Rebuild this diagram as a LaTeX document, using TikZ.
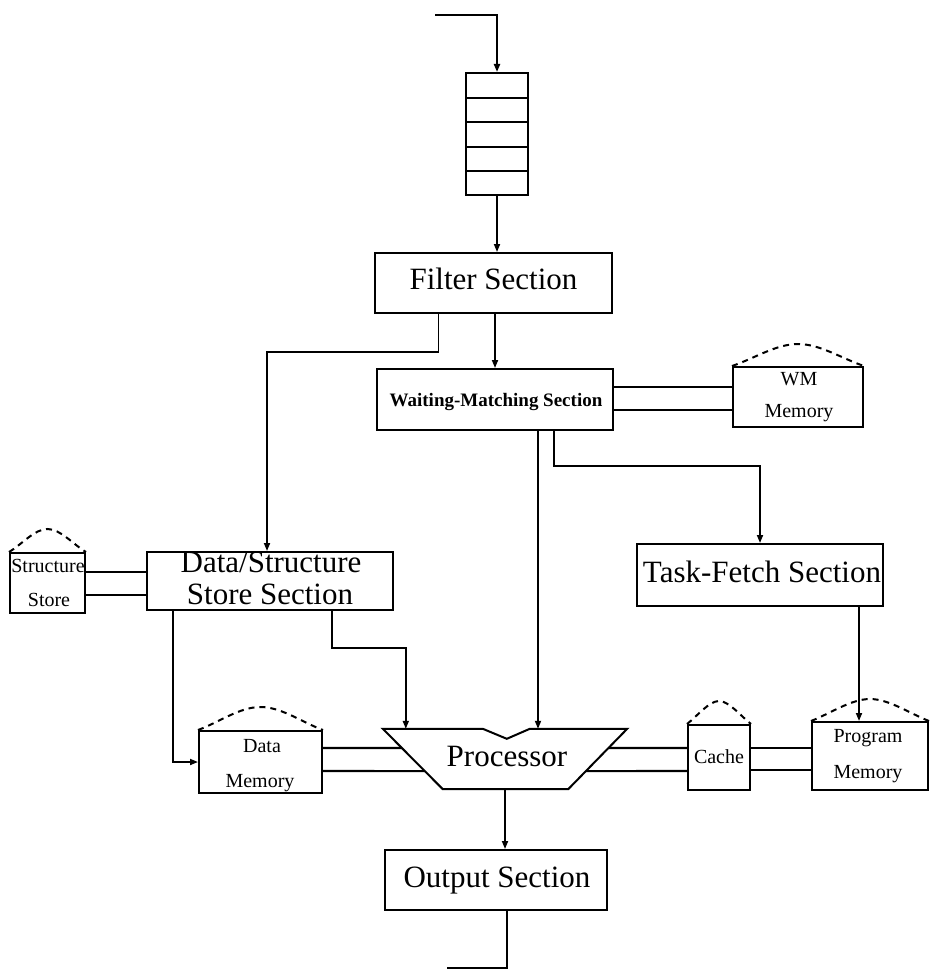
\documentclass[tikz,border=0pt]{standalone}
\usepackage{fontspec}
\setmainfont{Liberation Serif}
\usetikzlibrary{arrows.meta,calc}

% dashed roof over a memory box: #1 node, #2 control reach, #3 rise of the peak
\newcommand{\memroof}[3]{%
  \draw[roof] (#1.north west) .. controls +(#2,-#3/3) and +(-#2,0) .. ($(#1.north)+(0,-#3)$)
    .. controls +(#2,0) and +(-#2,-#3/3) .. (#1.north east);}

\begin{document}
\begin{tikzpicture}[x=1pt,y=-1pt,
  box/.style={draw,line width=2pt,inner sep=0pt},
  wire/.style={line width=1.7pt},
  link/.style={line width=2.1pt},
  arr/.style={wire,-{Triangle[length=8pt,width=6pt]}},
  roof/.style={line width=2pt,dash pattern=on 6pt off 5pt},
  bigtext/.style={font=\fontsize{31}{33}\selectfont,inner sep=0pt,anchor=base},
  smalltext/.style={font=\fontsize{20}{22}\selectfont,inner sep=0pt,anchor=base},
  boldtext/.style={font=\bfseries\fontsize{19}{21}\selectfont,inner sep=0pt,anchor=base}]

\useasboundingbox (0,0) rectangle (930,971);
\fill[white] (0,0) rectangle (930,971);

% ---- blocks ----
\node[box,minimum width=62,minimum height=122] (queue) at (497,134) {};
\node[box,minimum width=237,minimum height=60] (filter) at (493.5,283) {};
\node[box,minimum width=236,minimum height=61] (wms) at (495,399.5) {};
\node[box,minimum width=130,minimum height=60] (wmm) at (798,397) {};
\node[box,minimum width=246,minimum height=62] (tfs) at (760,575) {};
\node[box,minimum width=246,minimum height=58] (dss) at (270,581) {};
\node[box,minimum width=75,minimum height=60] (sst) at (47.5,583) {};
\node[box,minimum width=123,minimum height=62] (dmem) at (260.5,762) {};
\node[box,minimum width=62,minimum height=65] (cache) at (719,757.5) {};
\node[box,minimum width=116,minimum height=68] (pmem) at (870,756) {};
\node[inner sep=0pt,minimum width=244,minimum height=60] (proc) at (505,759) {};
\node[box,minimum width=222,minimum height=60] (outs) at (496,880) {};

% queue cells
\foreach \yy in {98,122,147,171}
  \draw[line width=2pt] (queue.west |- 0,\yy) -- (queue.east |- 0,\yy);

% processor outline with the notch on top
\coordinate (pbl) at ($(proc.south west)+(60,0)$);
\coordinate (pbr) at ($(proc.south east)+(-59,0)$);
\draw[box] (proc.north west) -- ($(proc.north west)+(100,0)$) -- ($(proc.north west)+(124,10)$)
  -- ($(proc.north west)+(147,0)$) -- (proc.north east) -- (pbr) -- (pbl) -- cycle;

% memory roofs
\memroof{wmm}{22}{22}
\memroof{sst}{13}{23}
\memroof{dmem}{21}{23}
\memroof{cache}{10}{23}
\memroof{pmem}{19}{22}

% ---- labels ----
\node[bigtext] (tfilter) at (493.5,289) {Filter Section};
\node[boldtext] (twms) at (496,406) {Waiting-Matching Section};
\node[smalltext] (twmm1) at (799,385) {WM};
\node[smalltext] (twmm2) at (799,417) {Memory};
\node[bigtext] (ttfs) at (762,582) {Task-Fetch Section};
\node[bigtext] (tdss1) at (271,572) {Data/Structure};
\node[bigtext] (tdss2) at (270,604) {Store Section};
\node[smalltext] (tsst1) at (48,572) {Structure};
\node[smalltext] (tsst2) at (49,606) {Store};
\node[smalltext] (tdm1) at (262,752) {Data};
\node[smalltext] (tdm2) at (260,787) {Memory};
\node[bigtext] (tproc) at (507,766) {Processor};
\node[smalltext] (tcache) at (719,763) {Cache};
\node[smalltext] (tpm1) at (868,742) {Program};
\node[smalltext] (tpm2) at (868,778) {Memory};
\node[bigtext] (tout) at (497,887) {Output Section};

% ---- connectors ----
\coordinate (inlet) at (435,15);
\draw[arr,line width=2.4pt] (inlet) -| (queue.north);
\draw[arr] (queue.south) -- (queue.south |- filter.north);

\coordinate (ftapL) at ([xshift=-55pt]filter.south);
\draw[arr] (ftapL) -- ++(0,38) -| ([xshift=-3pt]dss.north);
\draw[arr] (wms.north |- filter.south) -- (wms.north);

\draw[link] (wms.east |- 0,387) -- (wmm.west |- 0,387);
\draw[link] (wms.east |- 0,410) -- (wmm.west |- 0,410);

\coordinate (wtapR) at ([xshift=59pt]wms.south);
\draw[arr] (wtapR) -- ++(0,35) -| (tfs.north);
\coordinate (wtapP) at ([xshift=43pt]wms.south);
\draw[arr] (wtapP) -- (wtapP |- proc.north);

\coordinate (ttap) at ([xshift=99pt]tfs.south);
\draw[arr] (ttap) -- (ttap |- pmem.north);

\draw[link] (sst.east |- 0,572) -- (dss.west |- 0,572);
\draw[link] (sst.east |- 0,595) -- (dss.west |- 0,595);

\coordinate (dtapL) at ([xshift=-97pt]dss.south);
\draw[arr] (dtapL) |- (dmem.west);
\coordinate (dtapR) at ([xshift=62pt]dss.south);
\draw[arr] (dtapR) -- ++(0,37) -| ([xshift=23pt]proc.north west);

\draw[link] (dmem.east |- 0,748) -- ($(proc.north west)!0.317!(pbl)$);
\draw[link] (dmem.east |- 0,771) -- ($(proc.north west)!0.7!(pbl)$);
\draw[link] ($(proc.north east)!0.317!(pbr)$) -- (cache.west |- 0,748);
\draw[link] ($(proc.north east)!0.7!(pbr)$) -- (cache.west |- 0,771);
\draw[link] (cache.east |- 0,748) -- (pmem.west |- 0,748);
\draw[link] (cache.east |- 0,770) -- (pmem.west |- 0,770);

\draw[arr] (proc.south) -- (proc.south |- outs.north);
\coordinate (otap) at ([xshift=11pt]outs.south);
\coordinate (outlet) at (447,968);
\draw[wire] (otap) |- (outlet);

\end{tikzpicture}
\end{document}
